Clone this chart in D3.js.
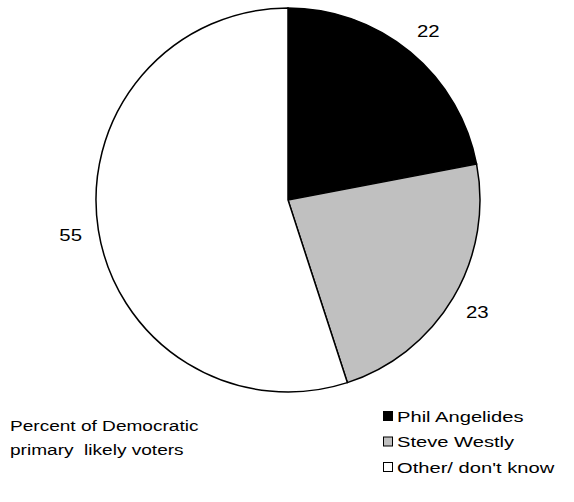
<!DOCTYPE html>
<html>
<head>
<meta charset="utf-8">
<script src="https://cdn.jsdelivr.net/npm/d3@7"></script>
<style>
  html, body { margin: 0; padding: 0; background: #fff; }
  svg { display: block; }
  text { font-family: "Liberation Sans", Arial, sans-serif; fill: #000; }
</style>
</head>
<body>
<svg id="chart" width="574" height="502"></svg>
<script>
const categories = ["Phil Angelides", "Steve Westly", "Other/ don't know"];
const values = [22, 23, 55];
const colors = ["#000000", "#c0c0c0", "#ffffff"];
const noteLines = ["Percent of Democratic", "primary  likely voters"];

const svg = d3.select("#chart");
const cx = 288, cy = 200, R = 192, labelR = 220;
const sxLabel = 1.2, sxLegend = 1.3, sxNote = 1.23; // horizontal stretch of the text, as in the reference

const pie = d3.pie().sort(null).value(d => d.value);
const arcs = pie(categories.map((c, i) => ({ name: c, value: values[i], color: colors[i] })));
const arc = d3.arc().innerRadius(0).outerRadius(R);
const labelArc = d3.arc().innerRadius(labelR).outerRadius(labelR);

const g = svg.append("g").attr("transform", `translate(${cx},${cy})`);
g.selectAll("path.slice").data(arcs).enter().append("path")
  .attr("class", "slice")
  .attr("d", arc)
  .attr("fill", d => d.data.color)
  .attr("stroke", "#000")
  .attr("stroke-width", 1.5)
  .attr("stroke-linejoin", "miter");

g.selectAll("text.lbl").data(arcs).enter().append("text")
  .attr("class", "lbl")
  .attr("transform", d => `translate(${labelArc.centroid(d)}) scale(${sxLabel},1)`)
  .attr("text-anchor", "middle")
  .attr("dy", "0.36em")
  .style("font-size", "17px")
  .text(d => d.data.value);

// Legend
const legend = svg.append("g").attr("transform", "translate(383,416)");
const rowH = 25.5;
const lg = legend.selectAll("g").data(categories).enter().append("g")
  .attr("transform", (d, i) => `translate(0,${i * rowH})`);
lg.append("rect")
  .attr("x", 0.5).attr("y", -4.5)
  .attr("width", 9).attr("height", 9)
  .attr("fill", (d, i) => colors[i])
  .attr("stroke", "#000").attr("stroke-width", 1);
lg.append("text")
  .attr("transform", `translate(14,0) scale(${sxLegend},1)`)
  .attr("dy", "0.36em")
  .style("font-size", "15.5px")
  .text(d => d);

// Note
svg.append("g").attr("transform", "translate(10,425)")
  .selectAll("text").data(noteLines).enter().append("text")
  .attr("transform", (d, i) => `translate(0,${i * 24}) scale(${sxNote},1)`)
  .attr("dy", "0.36em")
  .style("font-size", "15.5px")
  .style("white-space", "pre")
  .attr("xml:space", "preserve")
  .text(d => d);
</script>
</body>
</html>
